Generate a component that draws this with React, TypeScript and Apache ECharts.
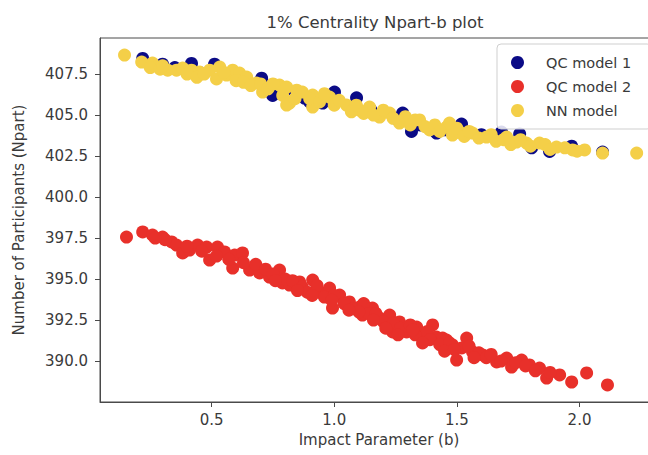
import React, { useEffect, useRef } from "react";
import * as echarts from "echarts";

const TITLE = "1% Centrality Npart-b plot";
const X_NAME = "Impact Parameter (b)";
const Y_NAME = "Number of Participants (Npart)";
const X_TICKS = [0.5, 1.0, 1.5, 2.0];
const Y_TICKS = [390.0, 392.5, 395.0, 397.5, 400.0, 402.5, 405.0, 407.5];

const SERIES_NAMES = ["QC model 1", "QC model 2", "NN model"];
const SERIES_COLORS = ["#0b0b86", "#e8302a", "#f4cf48"];

const qcModel1: number[][] = [
  [0.219, 408.45], [0.300, 408.1], [0.418, 408.15], [0.512, 408.1], [0.35, 407.9],
  [0.6, 407.5], [0.704, 407.25], [0.749, 406.2], [0.8, 406.5], [0.879, 406.04],
  [0.953, 405.73], [1.001, 406.4], [1.091, 406.05], [1.15, 405.3], [1.25, 404.8],
  [1.279, 405.12], [1.315, 404.0], [1.417, 403.9], [1.519, 404.45], [1.6, 403.8],
  [1.682, 403.96], [1.756, 403.85], [1.805, 403.0], [1.878, 402.78], [1.968, 403.1],
  [2.094, 402.74], [0.45, 407.6], [0.9, 405.8], [1.35, 404.4], [1.45, 404.1],
];

const qcModel2: number[][] = [
  [0.153, 397.56], [0.219, 397.87], [0.259, 397.68], [0.300, 397.56], [0.337, 397.26],
  [0.357, 397.07], [0.382, 396.59], [0.410, 396.77], [0.443, 397.07], [0.480, 396.95],
  [0.492, 396.16], [0.524, 396.95], [0.553, 396.65], [0.586, 395.67], [0.594, 396.46],
  [0.626, 396.59], [0.655, 395.55], [0.696, 395.37], [0.736, 395.12], [0.777, 395.55],
  [0.789, 394.76], [0.818, 394.63], [0.859, 394.82], [0.912, 394.94], [0.940, 394.21],
  [0.981, 394.45], [0.993, 393.23], [1.022, 394.02], [1.062, 393.6], [1.103, 393.29],
  [1.115, 392.8], [1.156, 393.23], [1.185, 392.62], [1.226, 392.8], [1.238, 391.77],
  [1.266, 392.38], [1.295, 391.77], [1.336, 392.07], [1.360, 391.46], [1.401, 392.2],
  [1.417, 391.46], [1.442, 391.4], [1.458, 391.28], [1.482, 390.98], [1.499, 390.06],
  [1.540, 391.4], [1.564, 390.55], [1.605, 390.37], [1.662, 389.94], [1.703, 390.18],
  [1.723, 389.63], [1.764, 390.06], [1.796, 389.76], [1.837, 389.57], [1.866, 388.96],
  [1.919, 389.15], [1.968, 388.72], [2.029, 389.27], [2.114, 388.54],
  [0.68, 395.9], [0.72, 395.6], [0.75, 395.3], [0.80, 395.0], [0.83, 394.9],
  [0.87, 394.5], [0.89, 394.2], [0.93, 394.6], [0.96, 393.9], [1.00, 394.0],
  [1.04, 393.5], [1.08, 393.2], [1.12, 393.5], [1.14, 392.9], [1.17, 392.9],
  [1.20, 392.4], [1.24, 392.3], [1.27, 392.0], [1.31, 392.2], [1.33, 391.6],
  [1.38, 391.8], [1.39, 391.3], [1.43, 391.0], [1.47, 391.1], [1.52, 390.8],
  [1.55, 390.9], [1.59, 390.5], [1.62, 390.2], [1.64, 390.4], [1.68, 390.0],
  [1.74, 389.9], [1.78, 389.7], [1.82, 389.4], [1.88, 389.3], [0.63, 396.0],
  [0.57, 396.2], [0.52, 396.4], [0.46, 396.7], [0.40, 397.0], [0.31, 397.4],
  [0.27, 397.5], [1.26, 391.6], [1.16, 392.5], [1.10, 393.0], [0.99, 393.7],
  [0.85, 394.3], [0.76, 394.9], [1.45, 390.6], [1.36, 391.1], [1.57, 390.2],
  [0.91, 394.0], [1.06, 393.1], [1.21, 392.0], [1.32, 391.9], [1.49, 390.7],
];

const nnModel: number[][] = [
  [0.145, 408.66], [0.215, 408.23], [0.259, 408.17], [0.321, 407.74], [0.357, 407.74],
  [0.382, 407.87], [0.418, 407.74], [0.451, 407.62], [0.492, 407.74], [0.533, 407.93],
  [0.561, 407.44], [0.586, 407.74], [0.614, 407.56], [0.643, 407.32], [0.683, 406.95],
  [0.708, 406.4], [0.777, 406.83], [0.806, 405.61], [0.806, 406.71], [0.818, 405.73],
  [0.847, 406.52], [0.912, 406.22], [0.912, 405.49], [0.981, 406.1], [1.050, 405.61],
  [1.103, 405.3], [1.144, 405.49], [1.185, 404.88], [1.226, 405.12], [1.266, 404.51],
  [1.348, 404.7], [1.389, 404.09], [1.458, 404.27], [1.482, 403.78], [1.470, 404.51],
  [1.511, 403.96], [1.564, 403.9], [1.621, 403.66], [1.703, 403.66], [1.743, 403.35],
  [1.784, 403.29], [1.837, 403.29], [1.906, 403.05], [1.972, 402.87], [2.021, 402.87],
  [2.094, 402.68], [2.233, 402.68],
  [0.25, 407.9], [0.29, 407.8], [0.30, 408.0], [0.40, 407.5], [0.44, 407.3],
  [0.47, 407.5], [0.52, 407.2], [0.55, 407.6], [0.60, 407.1], [0.63, 407.0],
  [0.66, 406.8], [0.70, 406.9], [0.73, 406.6], [0.75, 406.9], [0.79, 406.2],
  [0.84, 406.0], [0.87, 406.4], [0.90, 406.0], [0.94, 405.8], [0.96, 406.3],
  [1.00, 405.6], [1.02, 405.9], [1.07, 405.2], [1.09, 405.6], [1.12, 405.1],
  [1.16, 405.0], [1.20, 405.3], [1.24, 404.8], [1.29, 404.9], [1.31, 404.4],
  [1.33, 404.7], [1.37, 404.3], [1.41, 404.4], [1.43, 404.0], [1.50, 404.2],
  [1.53, 403.7], [1.55, 404.0], [1.59, 403.6], [1.64, 403.8], [1.66, 403.4],
  [1.69, 403.5], [1.72, 403.2], [1.76, 403.5], [1.80, 403.1], [1.86, 403.2],
  [1.88, 402.9], [1.94, 403.0], [1.99, 402.8],
];

const SERIES_DATA = [qcModel1, qcModel2, nnModel];

const FONT = "DejaVu Sans";
const TEXT_COLOR = "#3a3a3a";
const AXIS_COLOR = "#4a4a4a";

export default function App() {
  const ref = useRef<HTMLDivElement>(null);

  useEffect(() => {
    if (!ref.current) return;
    const chart = echarts.init(ref.current, undefined, { renderer: "svg" });
    chart.setOption({
      animation: false,
      backgroundColor: "#ffffff",
      textStyle: { fontFamily: FONT },
      title: {
        text: TITLE,
        left: 370,
        top: 9,
        textAlign: "center",
        textStyle: { fontFamily: FONT, fontSize: 16.5, fontWeight: "normal", color: TEXT_COLOR },
      },
      legend: {
        orient: "vertical",
        left: 497,
        top: 44,
        padding: [11, 20, 11, 14],
        itemGap: 9,
        itemWidth: 13,
        itemHeight: 13,
        icon: "circle",
        borderColor: "#cfcfcf",
        borderWidth: 1,
        borderRadius: 4,
        backgroundColor: "rgba(255,255,255,0.85)",
        textStyle: { fontFamily: FONT, fontSize: 14.5, lineHeight: 15, color: TEXT_COLOR, padding: [0, 0, 0, 17] },
        data: SERIES_NAMES,
      },
      grid: {
        left: 100,
        top: 38,
        width: 558,
        height: 364,
        show: true,
        borderColor: AXIS_COLOR,
        borderWidth: 1,
      },
      xAxis: {
        type: "value",
        min: 0.045,
        max: 2.32,
        name: X_NAME,
        nameLocation: "middle",
        nameGap: 30,
        nameTextStyle: { fontFamily: FONT, fontSize: 15, color: TEXT_COLOR },
        axisLine: { show: true, lineStyle: { color: AXIS_COLOR } },
        axisTick: { show: true, inside: false, length: 5, customValues: X_TICKS, lineStyle: { color: AXIS_COLOR } },
        axisLabel: {
          customValues: X_TICKS,
          margin: 10,
          fontFamily: FONT,
          fontSize: 15,
          color: TEXT_COLOR,
          formatter: (v: number) => v.toFixed(1),
        },
        splitLine: { show: false },
      },
      yAxis: {
        type: "value",
        min: 387.5,
        max: 409.7,
        name: Y_NAME,
        nameLocation: "middle",
        nameGap: 74,
        nameTextStyle: { fontFamily: FONT, fontSize: 15, color: TEXT_COLOR },
        axisLine: { show: true, lineStyle: { color: AXIS_COLOR } },
        axisTick: { show: true, inside: false, length: 5, customValues: Y_TICKS, lineStyle: { color: AXIS_COLOR } },
        axisLabel: {
          customValues: Y_TICKS,
          margin: 12,
          fontFamily: FONT,
          fontSize: 15,
          color: TEXT_COLOR,
          formatter: (v: number) => v.toFixed(1),
        },
        splitLine: { show: false },
      },
      series: SERIES_NAMES.map((name, i) => ({
        name,
        type: "scatter",
        data: SERIES_DATA[i],
        symbol: "circle",
        symbolSize: 13,
        itemStyle: { color: SERIES_COLORS[i], opacity: 1 },
        z: 2 + i,
      })),
    });
    return () => chart.dispose();
  }, []);

  return (
    <div style={{ position: "absolute", left: 0, top: 0, width: 648, height: 455, overflow: "hidden", background: "#fff" }}>
      <div ref={ref} style={{ width: 672, height: 455 }} />
    </div>
  );
}
